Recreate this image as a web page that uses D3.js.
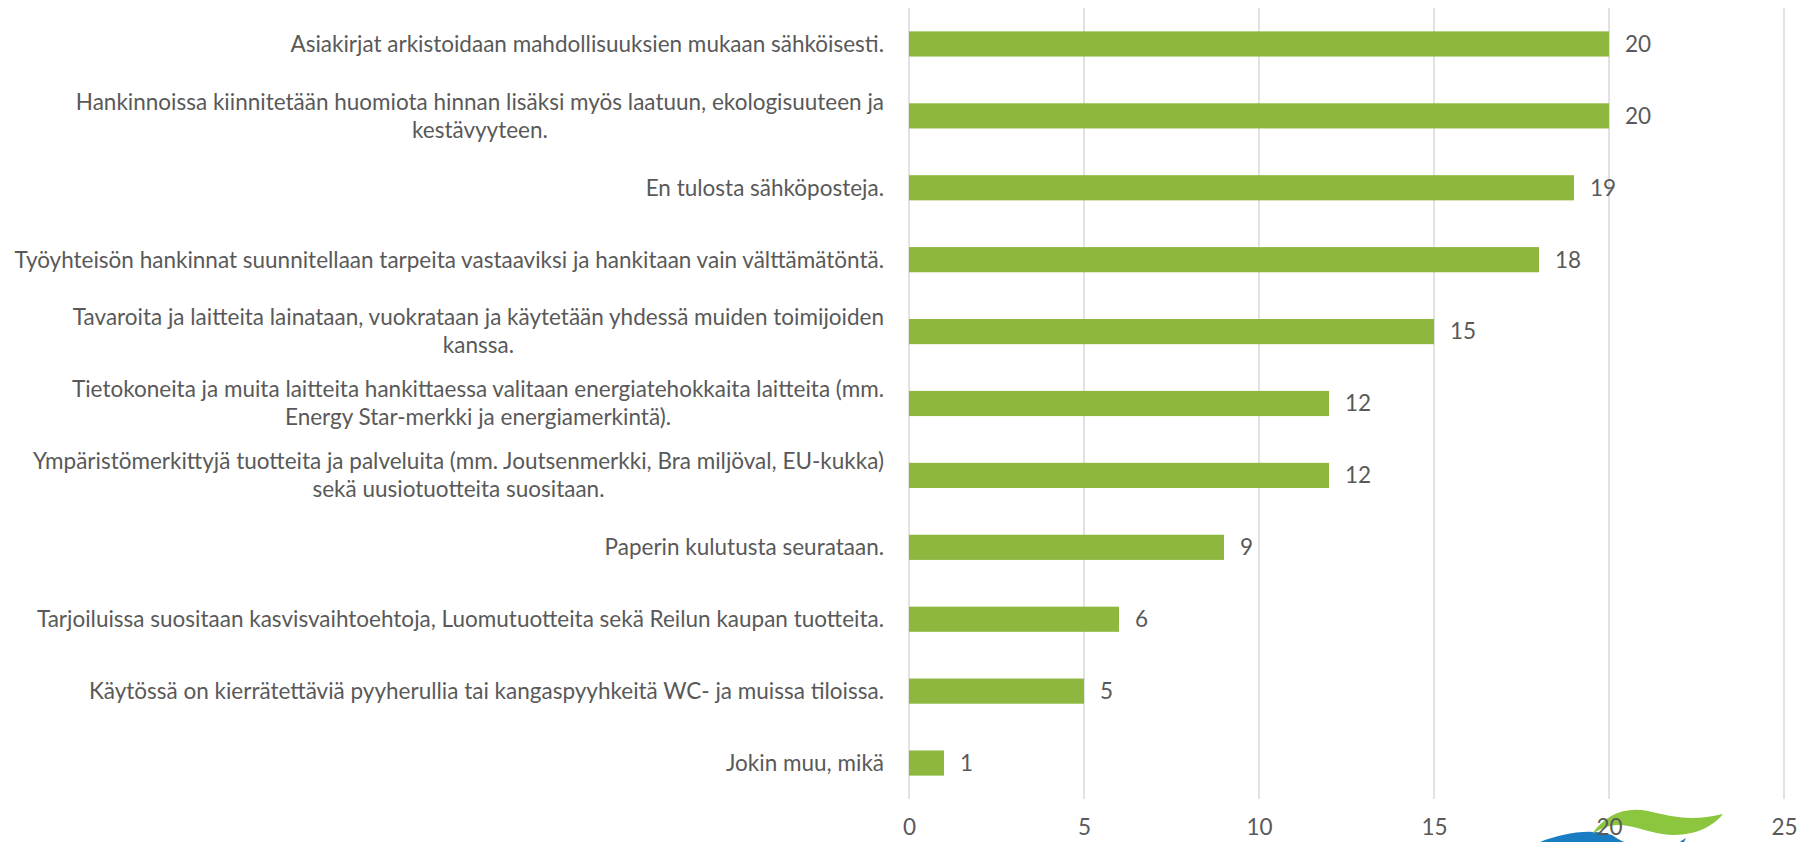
<!DOCTYPE html>
<html>
<head>
<meta charset="utf-8">
<script src="https://cdn.jsdelivr.net/npm/d3@7"></script>
<style>
    body { margin: 0; background: #fff; }
    svg text { font-family: Lato, "Open Sans", sans-serif; fill: #595959; }
</style>
</head>
<body>
<svg id="chart" width="1805" height="842"></svg>
<script>
// categories, top to bottom ("\n" marks the line break used in the original)
const categories = [
    'Asiakirjat arkistoidaan mahdollisuuksien mukaan sähköisesti.',
    'Hankinnoissa kiinnitetään huomiota hinnan lisäksi myös laatuun, ekologisuuteen ja\nkestävyyteen.',
    'En tulosta sähköposteja.',
    'Työyhteisön hankinnat suunnitellaan tarpeita vastaaviksi ja hankitaan vain välttämätöntä.',
    'Tavaroita ja laitteita lainataan, vuokrataan ja käytetään yhdessä muiden toimijoiden\nkanssa.',
    'Tietokoneita ja muita laitteita hankittaessa valitaan energiatehokkaita laitteita (mm.\nEnergy Star-merkki ja energiamerkintä).',
    'Ympäristömerkittyjä tuotteita ja palveluita (mm. Joutsenmerkki, Bra miljöval, EU-kukka)\nsekä uusiotuotteita suositaan.',
    'Paperin kulutusta seurataan.',
    'Tarjoiluissa suositaan kasvisvaihtoehtoja, Luomutuotteita sekä Reilun kaupan tuotteita.',
    'Käytössä on kierrätettäviä pyyherullia tai kangaspyyhkeitä WC- ja muissa tiloissa.',
    'Jokin muu, mikä'
];
const values = [20, 20, 19, 18, 15, 12, 12, 9, 6, 5, 1];
const xTicks = [0, 5, 10, 15, 20, 25];

const svg = d3.select('#chart');
const plotLeft = 909, plotRight = 1784, plotTop = 8, plotBottom = 799;
const fontSize = '22.5px';

const x = d3.scaleLinear().domain([0, 25]).range([plotLeft, plotRight]);
const y = d3.scaleBand().domain(categories).range([plotTop, plotBottom]).paddingInner(0.65).paddingOuter(0.325);

// gridlines
svg.append('g')
    .selectAll('line')
    .data(xTicks)
    .enter().append('line')
    .attr('x1', d => x(d)).attr('x2', d => x(d))
    .attr('y1', plotTop).attr('y2', plotBottom)
    .attr('stroke', '#d9d9d9')
    .attr('stroke-width', 1.5);

// logo fragment, bottom right (sits under the axis text)
const logo = svg.append('g');
logo.append('path')
    .attr('d', 'M1540,842 C1562,833 1590,828 1612,835 C1616,838 1620,840 1624,842 Z')
    .attr('fill', '#1a7dc4');
logo.append('path')
    .attr('d', 'M1680,842 C1682,840 1684,839 1686,838 L1684,842 Z')
    .attr('fill', '#1a7dc4');
logo.append('path')
    .attr('d', 'M1592,834 C1605,815 1625,806 1648,811 C1670,816 1690,822 1723,814 C1712,828 1690,838 1662,834 C1640,830 1625,822 1610,826 C1602,828 1597,831 1592,834 Z')
    .attr('fill', '#8cc63f');

// x axis labels
const xAxis = svg.append('g')
    .attr('transform', `translate(0,${plotBottom})`)
    .call(d3.axisBottom(x).tickValues(xTicks).tickSize(0).tickPadding(20));
xAxis.select('.domain').remove();
xAxis.selectAll('text').style('font-size', fontSize).style('font-family', 'Lato, sans-serif').attr('fill', '#595959');

// bars
svg.append('g')
    .selectAll('rect')
    .data(values)
    .enter().append('rect')
    .attr('x', x(0))
    .attr('y', (d, i) => y(categories[i]))
    .attr('width', d => x(d) - x(0))
    .attr('height', y.bandwidth())
    .attr('fill', '#8db73e');

// value labels
svg.append('g')
    .selectAll('text')
    .data(values)
    .enter().append('text')
    .attr('x', d => x(d) + 16)
    .attr('y', (d, i) => y(categories[i]) + y.bandwidth() / 2)
    .attr('dy', '0.35em')
    .style('font-size', fontSize)
    .text(d => d);

// category labels, right aligned block, lines centred within block
const lineHeight = 28;
const labels = svg.append('g');
categories.forEach(cat => {
    const lines = cat.split('\n');
    const cy = y(cat) + y.bandwidth() / 2;
    const y0 = cy - (lines.length - 1) * lineHeight / 2;
    const t = labels.append('text')
        .style('font-size', fontSize);
    lines.forEach((ln, j) => {
        t.append('tspan').attr('y', y0 + j * lineHeight).attr('dy', '0.35em').text(ln);
    });
    // measure widest line, then place
    const spans = t.selectAll('tspan').nodes();
    const w = d3.max(spans, s => s.getComputedTextLength());
    t.attr('text-anchor', 'middle');
    t.selectAll('tspan').attr('x', 884 - w / 2);
});
</script>
</body>
</html>
